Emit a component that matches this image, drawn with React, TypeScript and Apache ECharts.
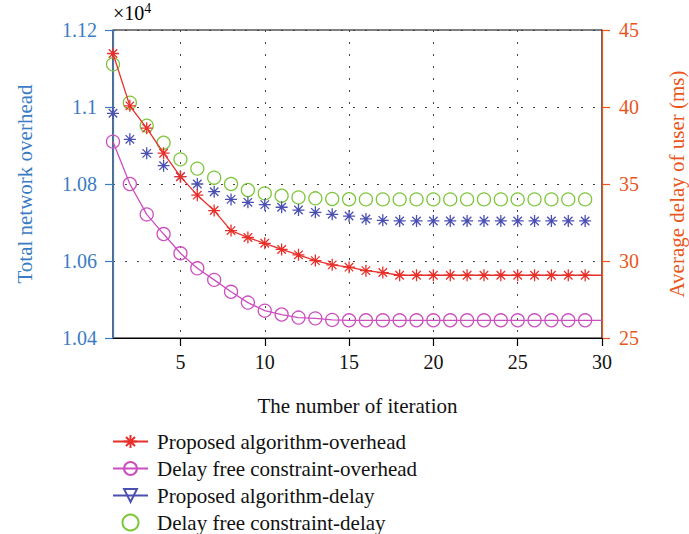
import React, { useEffect, useRef } from "react";
import * as echarts from "echarts";

const iterations: number[] = Array.from({ length: 30 }, (_, i) => i + 1);

// Total network overhead (x10^4), iterations 1..30
const proposedOverhead: number[] = [
  1.1139, 1.1003, 1.0945, 1.088, 1.0819, 1.0771, 1.0731, 1.0679, 1.0661, 1.0646,
  1.063, 1.0616, 1.0601, 1.059, 1.0584, 1.0575, 1.057, 1.0563, 1.0563, 1.0563,
  1.0563, 1.0563, 1.0563, 1.0563, 1.0563, 1.0563, 1.0563, 1.0563, 1.0563, 1.0563,
];
const freeOverhead: number[] = [
  1.091, 1.08, 1.0721, 1.067, 1.062, 1.0581, 1.0551, 1.052, 1.0492, 1.0471,
  1.0461, 1.0453, 1.0451, 1.0447, 1.0446, 1.0446, 1.0446, 1.0446, 1.0446, 1.0446,
  1.0446, 1.0446, 1.0446, 1.0446, 1.0446, 1.0446, 1.0446, 1.0446, 1.0446, 1.0446,
];
// Average delay of user (ms), iterations 1..29
const proposedDelay: number[] = [
  39.59, 37.9, 36.99, 36.19, 35.48, 35.0, 34.5, 34.0, 33.81, 33.66,
  33.49, 33.31, 33.16, 33.03, 32.92, 32.73, 32.64, 32.6, 32.6, 32.6,
  32.6, 32.6, 32.6, 32.6, 32.6, 32.6, 32.6, 32.6, 32.6,
];
const freeDelay: number[] = [
  42.77, 40.28, 38.79, 37.68, 36.6, 36.0, 35.41, 35.0, 34.61, 34.39,
  34.24, 34.13, 34.07, 34.03, 34.01, 34.0, 34.0, 34.0, 34.0, 34.0,
  34.0, 34.0, 34.0, 34.0, 34.0, 34.0, 34.0, 34.0, 34.0,
];

const xTicks: number[] = [5, 10, 15, 20, 25, 30];
const seriesNames: string[] = [
  "Proposed algorithm-overhead",
  "Delay free constraint-overhead",
  "Proposed algorithm-delay",
  "Delay free constraint-delay",
];

const FONT = "Liberation Serif";
const LEFT_C = "#3a7cc4";
const RIGHT_C = "#e8561c";
const RED = "#e8302a";
const MAG = "#cc4fc0";
const BLUE = "#4a50b0";
const GREEN = "#7dc63a";
const ASTER = "path://M0,-6L0,6M-6,0L6,0M-4.24,-4.24L4.24,4.24M-4.24,4.24L4.24,-4.24";
const NONE = "rgba(0,0,0,0)";

function withMarkers(vals: number[], lastMarkers: number) {
  return vals.map((v, i) =>
    i < lastMarkers ? [iterations[i], v] : { value: [iterations[i], v], symbol: "none" }
  );
}

export default function App() {
  const ref = useRef<HTMLDivElement>(null);
  useEffect(() => {
    if (!ref.current) return;
    const chart = echarts.init(ref.current, null, { renderer: "svg" });
    chart.setOption({
      animation: false,
      backgroundColor: "#fff",
      textStyle: { fontFamily: FONT },
      grid: {
        left: 113,
        right: 87,
        top: 30,
        bottom: 196,
        show: true,
        borderColor: "#000",
        borderWidth: 1.2,
        backgroundColor: "#fff",
        outerBoundsMode: "none",
        containLabel: false,
      },
      graphic: [
        {
          type: "text",
          left: 113,
          top: 1,
          style: {
            text: "{a|×10}{b|4}",
            rich: {
              a: { fontSize: 20, fontFamily: FONT, fill: "#000" },
              b: { fontSize: 14, fontFamily: FONT, fill: "#000", verticalAlign: "top", padding: [0, 0, 10, 0] },
            },
          },
        },
      ],
      legend: {
        orient: "vertical",
        left: 112,
        top: 431,
        height: 160,
        padding: 0,
        itemWidth: 35,
        itemHeight: 16,
        itemGap: 6,
        data: seriesNames,
        textStyle: { fontFamily: FONT, fontSize: 21, color: "#111", lineHeight: 21, padding: [0, 0, 0, 4] },
      },
      xAxis: {
        type: "value",
        min: 1,
        max: 30,
        name: "The number of iteration",
        nameLocation: "middle",
        nameGap: 57,
        nameTextStyle: { fontFamily: FONT, fontSize: 21, color: "#111" },
        axisLine: { lineStyle: { color: "#000", width: 1.2 } },
        axisTick: { inside: false, length: 8, customValues: xTicks, lineStyle: { color: "#000", width: 1.2 } },
        axisLabel: { customValues: xTicks, margin: 14, fontFamily: FONT, fontSize: 20, color: "#111" },
        splitLine: { show: true, lineStyle: { color: "#444", width: 1, type: [2, 10] } },
      },
      yAxis: [
        {
          type: "value",
          min: 1.04,
          max: 1.12,
          interval: 0.02,
          position: "left",
          name: "Total network overhead",
          nameLocation: "middle",
          nameGap: 78,
          nameTextStyle: { fontFamily: FONT, fontSize: 21, color: LEFT_C },
          axisLine: { show: true, lineStyle: { color: LEFT_C, width: 1.2 } },
          axisTick: { show: true, inside: false, length: 8, lineStyle: { color: LEFT_C, width: 1.2 } },
          axisLabel: {
            margin: 16,
            fontFamily: FONT,
            fontSize: 20,
            color: LEFT_C,
            formatter: (v: number) => String(Number(v.toFixed(2))),
          },
          splitLine: { show: true, lineStyle: { color: "#444", width: 1, type: [2, 10] } },
        },
        {
          type: "value",
          min: 25,
          max: 45,
          interval: 5,
          position: "right",
          name: "Average delay of user (ms)",
          nameLocation: "middle",
          nameRotate: 90,
          nameGap: 64,
          nameTextStyle: { fontFamily: FONT, fontSize: 21, color: RIGHT_C },
          axisLine: { show: true, lineStyle: { color: RIGHT_C, width: 1.2 } },
          axisTick: { show: true, inside: false, length: 8, lineStyle: { color: RIGHT_C, width: 1.2 } },
          axisLabel: { margin: 17, fontFamily: FONT, fontSize: 20, color: RIGHT_C },
          splitLine: { show: false },
        },
      ],
      series: [
        {
          name: seriesNames[0],
          type: "line",
          yAxisIndex: 0,
          data: withMarkers(proposedOverhead, 29),
          symbol: ASTER,
          symbolSize: 12,
          showAllSymbol: true,
          itemStyle: { color: RED, borderColor: RED, borderWidth: 1.3 },
          lineStyle: { color: RED, width: 1.3 },
          z: 4,
        },
        {
          name: seriesNames[1],
          type: "line",
          yAxisIndex: 0,
          data: withMarkers(freeOverhead, 29),
          symbol: "circle",
          symbolSize: 13,
          showAllSymbol: true,
          itemStyle: { color: NONE, borderColor: MAG, borderWidth: 1.3 },
          lineStyle: { color: MAG, width: 1.3 },
          z: 3,
        },
        {
          name: seriesNames[2],
          type: "line",
          yAxisIndex: 1,
          data: [],
          symbol: "triangle",
          symbolRotate: 180,
          symbolSize: 12,
          itemStyle: { color: NONE, borderColor: BLUE, borderWidth: 1.3 },
          lineStyle: { color: BLUE, width: 1.3 },
        },
        {
          name: "blue-points",
          type: "scatter",
          yAxisIndex: 1,
          data: proposedDelay.map((v, i) => [iterations[i], v]),
          symbol: ASTER,
          symbolSize: 12,
          itemStyle: { color: BLUE, borderColor: BLUE, borderWidth: 1.3, opacity: 1 },
          z: 3,
        },
        {
          name: seriesNames[3],
          type: "scatter",
          yAxisIndex: 1,
          data: freeDelay.map((v, i) => [iterations[i], v]),
          symbol: "circle",
          symbolSize: 13,
          itemStyle: { color: NONE, borderColor: GREEN, borderWidth: 1.3, opacity: 1 },
          z: 2,
        },
      ],
    });
    return () => chart.dispose();
  }, []);
  return <div ref={ref} style={{ width: 689, height: 534, position: "absolute", left: 0, top: 0 }} />;
}
